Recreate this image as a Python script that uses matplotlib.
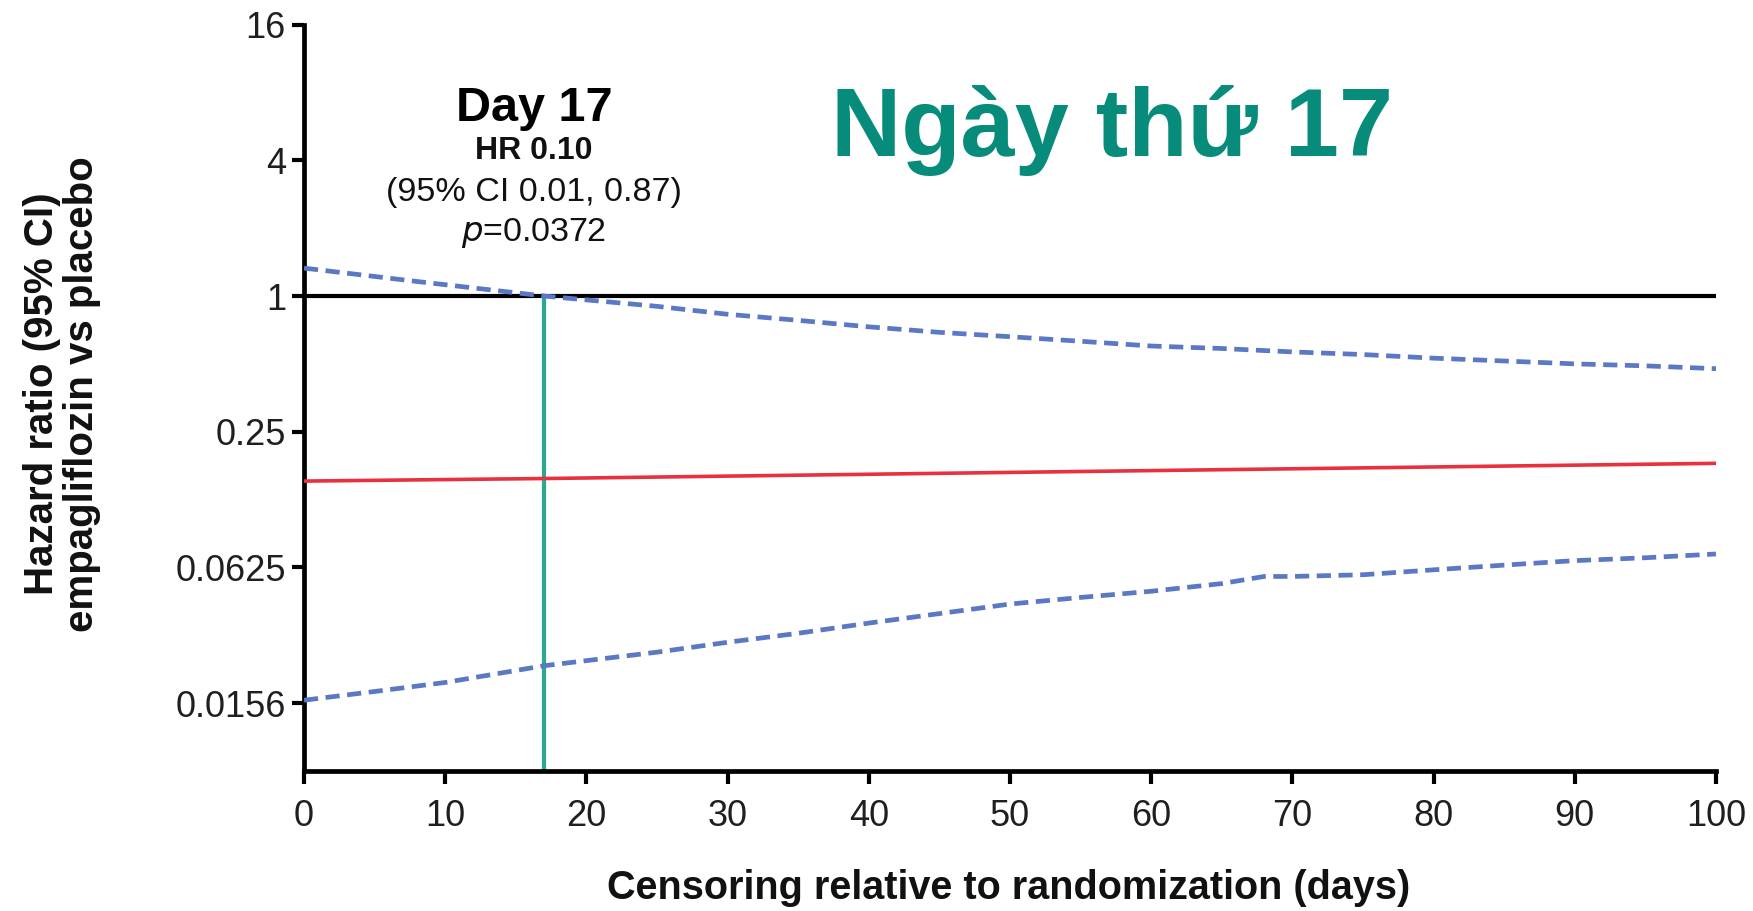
import matplotlib
matplotlib.use('Agg')
import matplotlib.pyplot as plt
from matplotlib.ticker import FixedLocator, NullLocator

# ---- data ----
upper_days = [0, 8, 17, 25, 30, 35, 40, 45, 50, 55, 60, 65, 70, 75, 80, 85, 90, 95, 100]
upper_ci = [1.33, 1.16, 1.0, 0.90, 0.83, 0.78, 0.73, 0.69, 0.66, 0.63, 0.60, 0.585,
            0.565, 0.55, 0.53, 0.515, 0.50, 0.49, 0.476]
hr_days = [0, 17, 50, 100]
hr_vals = [0.151, 0.155, 0.165, 0.181]
lower_days = [0, 5, 10, 17, 25, 30, 35, 40, 45, 50, 55, 60, 65, 68, 70, 75, 80, 85, 90, 95, 100]
lower_ci = [0.0161, 0.0176, 0.0193, 0.0229, 0.0263, 0.0291, 0.0319, 0.0354, 0.039, 0.043, 0.046,
            0.049, 0.053, 0.057, 0.057, 0.058, 0.061, 0.064, 0.067, 0.069, 0.0717]
marker_day = 17
ref_hr = 1.0
y_ticks = [16, 4, 1, 0.25, 0.0625, 0.015625]
y_ticklabels = ["16", "4", "1", "0.25", "0.0625", "0.0156"]
x_ticks = list(range(0, 101, 10))

FONT = ['Liberation Sans', 'DejaVu Sans']
plt.rcParams['font.family'] = FONT

W, H = 1753, 911
fig = plt.figure(figsize=(W / 100, H / 100), dpi=100)
ax = fig.add_axes([304 / W, 1 - 771 / H, (1716 - 304) / W, (771 - 24.6) / H])

ax.set_yscale('log', base=2)
ax.set_ylim(2 ** -7, 16)
ax.set_xlim(0, 100)

blue = '#5a78c3'
ax.plot(upper_days, upper_ci, color=blue, lw=3.4, linestyle=(0, (3.0, 1.6)),
        dash_capstyle='butt', zorder=3)
ax.plot(lower_days, lower_ci, color=blue, lw=3.4, linestyle=(0, (3.0, 1.6)),
        dash_capstyle='butt', zorder=3)
ax.plot(hr_days, hr_vals, color='#e8303f', lw=2.6, zorder=3)
ax.plot([0, 100], [ref_hr, ref_hr], color='black', lw=3.0, zorder=2)
ax.plot([marker_day, marker_day], [2 ** -7, ref_hr], color='#2aa98d', lw=3.0, zorder=2)

for s in ['top', 'right']:
    ax.spines[s].set_visible(False)
for s in ['left', 'bottom']:
    ax.spines[s].set_linewidth(3.4)
    ax.spines[s].set_color('black')

ax.yaxis.set_major_locator(FixedLocator(y_ticks))
ax.set_yticklabels(y_ticklabels)
ax.yaxis.set_minor_locator(NullLocator())
ax.set_xticks(x_ticks)
ax.set_xticklabels([str(t) for t in x_ticks])
ax.tick_params(axis='both', direction='out', length=9, width=3, labelsize=26,
               labelcolor='#1f1f1f')
ax.tick_params(axis='y', pad=4)
ax.tick_params(axis='x', pad=11)

# axis labels
fig.text(62 / W, 1 - 394 / H, "Hazard ratio (95% CI)\nempagliflozin vs placebo",
         rotation=90, ha='center', va='center', fontsize=29, fontweight='bold',
         multialignment='center', linespacing=1.05, color='#111111')
fig.text(1009 / W, 1 - 899 / H, "Censoring relative to randomization (days)",
         ha='center', va='baseline', fontsize=28.5, fontweight='bold', color='#111111')

# annotation
cx = 534 / W
fig.text(cx, 1 - 121 / H, "Day 17", ha='center', va='baseline', fontsize=35,
         fontweight='bold', color='black')
fig.text(cx, 1 - 159 / H, "HR 0.10", ha='center', va='baseline', fontsize=23,
         fontweight='bold', color='#111111')
fig.text(cx, 1 - 201 / H, "(95% CI 0.01, 0.87)", ha='center', va='baseline', fontsize=24.5,
         color='#111111')
fig.text(cx, 1 - 241 / H, r"$\it{p}$=0.0372", ha='center', va='baseline', fontsize=24.5,
         color='#111111')

# title
fig.text(1112 / W, 1 - 156.5 / H, "Ngày thứ 17", ha='center', va='baseline', fontsize=70,
         fontweight='bold', color='#078c7c')

fig.savefig('out.png', dpi=100, facecolor='white')
